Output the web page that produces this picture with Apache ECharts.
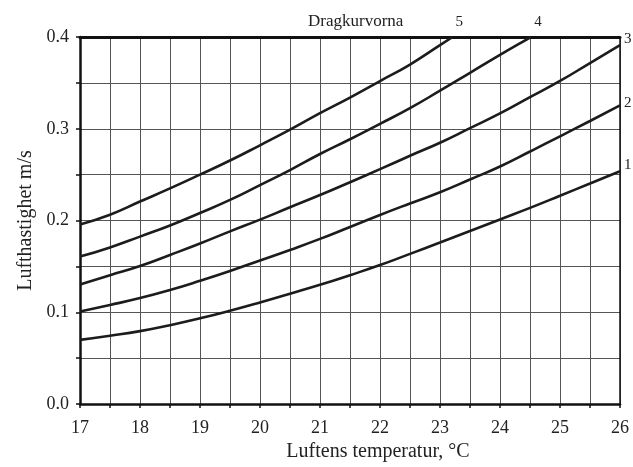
<!DOCTYPE html>
<html>
<head>
<meta charset="utf-8">
<script src="https://cdn.jsdelivr.net/npm/echarts@6/dist/echarts.min.js"></script>
<style>html,body{margin:0;padding:0;background:#fff}#c{width:633px;height:467px}</style>
</head>
<body>
<div id="c"></div>
<script>
const temps = [17, 17.5, 18, 18.5, 19, 19.5, 20, 20.5, 21, 21.5, 22, 22.5, 23, 23.5, 24, 24.5, 25, 25.5, 26];
const curve1 = [0.070, 0.0745, 0.0795, 0.086, 0.0935, 0.1018, 0.1108, 0.1203, 0.130, 0.1405, 0.1515, 0.1637, 0.176, 0.1886, 0.2012, 0.2138, 0.227, 0.2404, 0.2537];
const curve2 = [0.101, 0.108, 0.1155, 0.1243, 0.1343, 0.145, 0.1565, 0.168, 0.180, 0.193, 0.2061, 0.2186, 0.2308, 0.2447, 0.2589, 0.2752, 0.2918, 0.3085, 0.3255];
const curve3 = [0.1304, 0.1404, 0.1504, 0.1625, 0.175, 0.1882, 0.201, 0.2145, 0.2278, 0.2418, 0.256, 0.2706, 0.2848, 0.3007, 0.3167, 0.3344, 0.3521, 0.3716, 0.3911];
const curve4 = [0.1607, 0.1707, 0.1825, 0.1946, 0.2082, 0.2225, 0.2386, 0.255, 0.2725, 0.2886, 0.3054, 0.3225, 0.3415, 0.361, 0.3805, 0.3993];
const curve4End = [24.52, 0.4];
const curve5 = [0.1957, 0.2064, 0.2207, 0.235, 0.250, 0.2654, 0.282, 0.299, 0.317, 0.334, 0.352, 0.370, 0.3911];
const curve5End = [23.21, 0.4];
const curveNames = ['1', '2', '3', '4', '5'];
const yTickLabels = ['0.0', '0.1', '0.2', '0.3', '0.4'];
const xTickLabels = ['17', '18', '19', '20', '21', '22', '23', '24', '25', '26'];

function pairs(vals, end) {
  const d = vals.map((v, i) => [temps[i], v]);
  if (end) d.push(end);
  return d;
}
const serif = 'Liberation Serif';
const lineCol = '#1c1c1c';
const endOffsets = [[0, -6], [0, -2], [0, -6], [-1, -15], [-1, -15]];
const datasets = [pairs(curve1), pairs(curve2), pairs(curve3), pairs(curve4, curve4End), pairs(curve5, curve5End)];

const series = datasets.map((d, i) => ({
  type: 'line',
  data: d,
  smooth: 0.5,
  symbol: 'none',
  xAxisIndex: 0, yAxisIndex: 0,
  lineStyle: { color: lineCol, width: 2.6 },
  endLabel: {
    show: true,
    formatter: curveNames[i],
    fontFamily: serif,
    fontSize: 15,
    color: '#222',
    distance: 4,
    offset: endOffsets[i]
  },
  silent: true,
  z: 5
}));

const chart = echarts.init(document.getElementById('c'), null, { renderer: 'canvas' });
chart.setOption({
  animation: false,
  backgroundColor: '#fff',
  title: {
    text: 'Dragkurvorna',
    left: 303, top: 8,
    textStyle: { fontFamily: serif, fontSize: 17, fontWeight: 'normal', color: '#222' }
  },
  grid: { left: 80, right: 13, top: 37, bottom: 56, containLabel: false },
  xAxis: [{
    type: 'value', min: 17, max: 26, interval: 0.5,
    name: 'Luftens temperatur, °C', nameLocation: 'middle', nameGap: 36,
    nameTextStyle: { fontFamily: serif, fontSize: 20, color: '#222', padding: [0, 0, 0, 56] },
    axisLine: { show: true, onZero: false, lineStyle: { color: '#111', width: 2.5 } },
    axisTick: { show: true, inside: false, length: 4, lineStyle: { color: '#111', width: 1.5 } },
    axisLabel: {
      fontFamily: serif, fontSize: 18, color: '#222', margin: 15,
      formatter: v => Number.isInteger(v) ? xTickLabels[v - 17] : ''
    },
    splitLine: { show: true, lineStyle: { color: '#555', width: 1 } }
  }, {
    type: 'value', min: 17, max: 26, interval: 0.5, position: 'top',
    axisLine: { show: true, onZero: false, lineStyle: { color: '#111', width: 3 } },
    axisTick: { show: false }, axisLabel: { show: false }, splitLine: { show: false }
  }],
  yAxis: [{
    type: 'value', min: 0, max: 0.4, interval: 0.05,
    name: 'Lufthastighet m/s', nameLocation: 'middle', nameGap: 44,
    nameTextStyle: { fontFamily: serif, fontSize: 20, color: '#222' },
    axisLine: { show: true, onZero: false, lineStyle: { color: '#111', width: 2.5 } },
    axisTick: { show: true, inside: false, length: 4, lineStyle: { color: '#111', width: 1.5 } },
    axisLabel: {
      fontFamily: serif, fontSize: 18, color: '#222', margin: 11,
      formatter: v => {
        const k = Math.round(v * 100);
        return k % 10 === 0 ? yTickLabels[k / 10] : '';
      }
    },
    splitLine: { show: true, lineStyle: { color: '#555', width: 1 } }
  }, {
    type: 'value', min: 0, max: 0.4, interval: 0.05, position: 'right',
    axisLine: { show: true, onZero: false, lineStyle: { color: '#111', width: 1.5 } },
    axisTick: { show: false }, axisLabel: { show: false }, splitLine: { show: false }
  }],
  series: series
});
</script>
</body>
</html>
